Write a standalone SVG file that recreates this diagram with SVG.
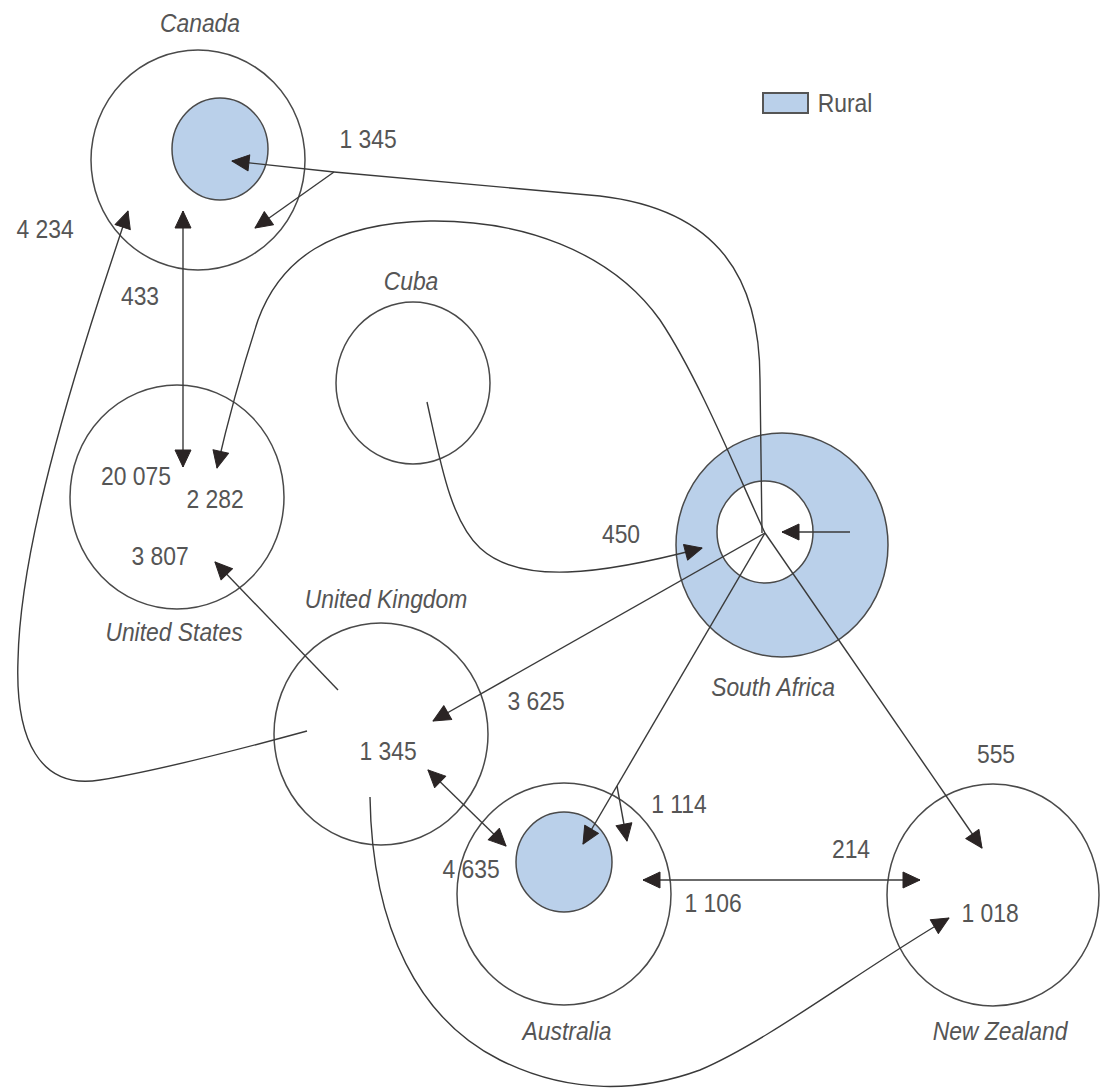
<svg xmlns="http://www.w3.org/2000/svg" width="1107" height="1091" viewBox="0 0 1107 1091">
<style>
.ring{fill:none;stroke:#4a4a4a;stroke-width:1.5}
.blue{fill:#bad0ea;stroke:#4a4a4a;stroke-width:1.5}
.white{fill:#ffffff;stroke:#4a4a4a;stroke-width:1.5}
.c{fill:none;stroke:#3a3a3a;stroke-width:1.4}
.a{marker-end:url(#ah)}
.d{marker-start:url(#ahs);marker-end:url(#ah)}
.head{fill:#2a2424;stroke:#2a2424;stroke-width:1;stroke-linejoin:round}
text{font-family:"Liberation Sans",Arial,sans-serif;font-size:26px;fill:#555555;text-anchor:middle}
.it{font-style:italic}
</style>
<defs>
<marker id="ah" markerUnits="userSpaceOnUse" markerWidth="20" markerHeight="18" refX="17" refY="8" orient="auto" overflow="visible">
<path class="head" d="M0,0 L17,8 L0,16 z"/>
</marker>
<marker id="ahs" markerUnits="userSpaceOnUse" markerWidth="20" markerHeight="18" refX="17" refY="8" orient="auto-start-reverse" overflow="visible">
<path class="head" d="M0,0 L17,8 L0,16 z"/>
</marker>
</defs>
<rect width="1107" height="1091" fill="#ffffff"/>

<g id="legend">
<rect x="763" y="93" width="45" height="20" fill="#bad0ea" stroke="#555555" stroke-width="2"/>
<text transform="translate(845,112) scale(0.88,1)">Rural</text>
</g>

<g id="canada">
<ellipse class="ring" cx="198" cy="160" rx="107" ry="110"/>
<ellipse class="blue" cx="220" cy="149" rx="48" ry="51"/>
<text class="it" transform="translate(200,32) scale(0.88,1)">Canada</text>
</g>

<g id="united-states">
<ellipse class="ring" cx="177" cy="497" rx="107" ry="112"/>
<text transform="translate(136,485) scale(0.88,1)">20 075</text>
<text transform="translate(215,508) scale(0.88,1)">2 282</text>
<text transform="translate(160,565) scale(0.88,1)">3 807</text>
<text class="it" transform="translate(174,641) scale(0.88,1)">United States</text>
</g>

<g id="cuba">
<ellipse class="ring" cx="413" cy="383" rx="77" ry="81"/>
<text class="it" transform="translate(411,290) scale(0.88,1)">Cuba</text>
</g>

<g id="united-kingdom">
<ellipse class="ring" cx="381" cy="734" rx="107" ry="111"/>
<text class="it" transform="translate(386,608) scale(0.88,1)">United Kingdom</text>
<text transform="translate(388,760) scale(0.88,1)">1 345</text>
</g>

<g id="south-africa">
<ellipse class="blue" cx="782" cy="545" rx="106" ry="112"/>
<ellipse class="white" cx="765" cy="532" rx="48" ry="51"/>
<text class="it" transform="translate(773,696) scale(0.88,1)">South Africa</text>
</g>

<g id="australia">
<ellipse class="ring" cx="564" cy="894" rx="107" ry="111"/>
<ellipse class="blue" cx="564" cy="862" rx="48" ry="50"/>
<text class="it" transform="translate(567,1040) scale(0.88,1)">Australia</text>
</g>

<g id="new-zealand">
<ellipse class="ring" cx="993" cy="895" rx="106" ry="111"/>
<text transform="translate(990,922) scale(0.88,1)">1 018</text>
<text class="it" transform="translate(1000,1040) scale(0.88,1)">New Zealand</text>
</g>

<g id="connectors">
<path class="c a" d="M762,533 L760,380 C760,280 720,210 600,196 L334,172 L232,161"/>
<path class="c a" d="M334,172 L255,228"/>
<path class="c a" d="M765,533 C740,480 700,380 660,320 C610,250 520,220 430,221 C330,223 280,260 258,320 C245,360 228,420 217,468"/>
<path class="c d" d="M183,211 L183,467"/>
<path class="c a" d="M307,731 C230,752 150,772 100,780 C40,790 15,740 18,660 C20,560 60,420 100,296 L128,211"/>
<path class="c a" d="M338,690 L215,562"/>
<path class="c a" d="M427,402 C440,460 450,520 480,548 C520,585 600,575 702,548"/>
<path class="c a" d="M850,532 L782,532"/>
<path class="c a" d="M765,533 L433,721"/>
<path class="c a" d="M765,533 L583,844"/>
<path class="c a" d="M617,786 L627,841"/>
<path class="c a" d="M765,533 L982,848"/>
<path class="c d" d="M428,770 L506,846"/>
<path class="c d" d="M643,880 L920,880"/>
<path class="c a" d="M370,797 C372,930 420,1020 500,1060 C570,1095 640,1092 700,1070 C770,1040 860,970 949,918"/>
</g>

<g id="labels">
<text transform="translate(368,148) scale(0.88,1)">1 345</text>
<text transform="translate(45,238) scale(0.88,1)">4 234</text>
<text transform="translate(140,305) scale(0.88,1)">433</text>
<text transform="translate(621,543) scale(0.88,1)">450</text>
<text transform="translate(536,710) scale(0.88,1)">3 625</text>
<text transform="translate(996,763) scale(0.88,1)">555</text>
<text transform="translate(679,813) scale(0.88,1)">1 114</text>
<text transform="translate(851,858) scale(0.88,1)">214</text>
<text transform="translate(471,878) scale(0.88,1)">4 635</text>
<text transform="translate(713,912) scale(0.88,1)">1 106</text>
</g>
</svg>
